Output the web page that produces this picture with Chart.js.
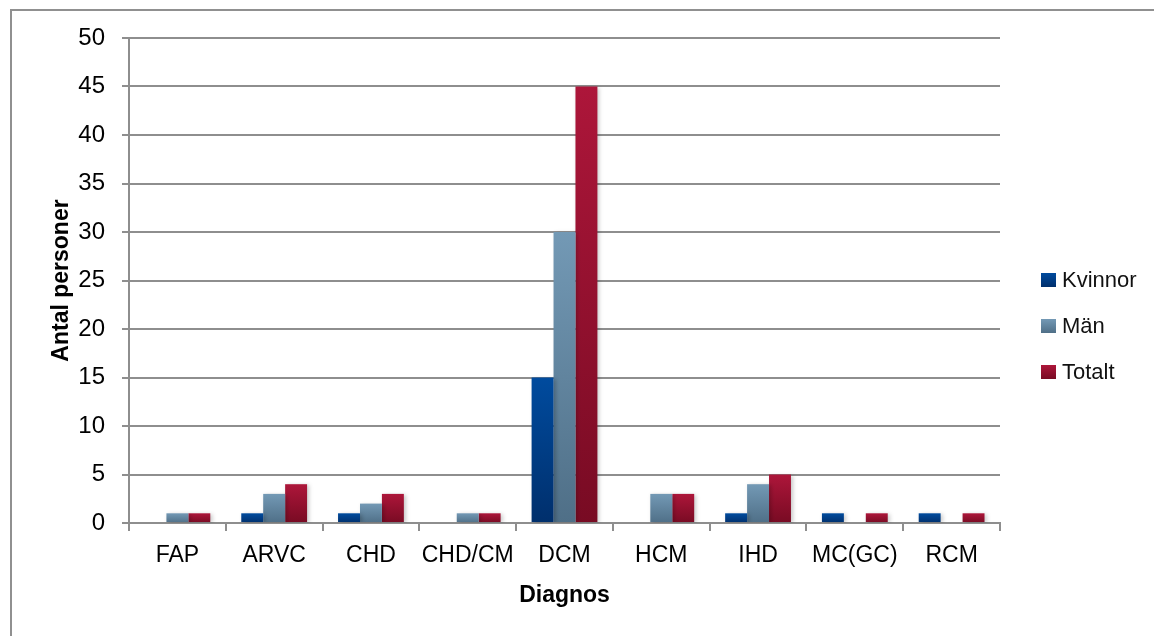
<!DOCTYPE html>
<html>
<head>
<meta charset="utf-8">
<script src="https://cdn.jsdelivr.net/npm/chart.js@4.4.1/dist/chart.umd.min.js"></script>
<style>
  html, body { margin: 0; padding: 0; background: #fff; }
  #wrap { position: relative; width: 1154px; height: 636px; overflow: hidden; }
  #frame { position: absolute; left: 10px; top: 9px; width: 1300px; height: 800px;
           border-top: 2px solid #909090; border-left: 2px solid #909090; }
  canvas { position: absolute; left: 0; top: 0; }
</style>
</head>
<body>
<div id="wrap">
  <div id="frame"></div>
  <canvas id="c" width="1154" height="636"></canvas>
</div>
<script>
// Diagnoses and number of persons per group
const categories = ['FAP', 'ARVC', 'CHD', 'CHD/CM', 'DCM', 'HCM', 'IHD', 'MC(GC)', 'RCM'];
const kvinnor = [0, 1, 1, 0, 15, 0, 1, 1, 1];
const man     = [1, 3, 2, 1, 30, 3, 4, 0, 0];
const totalt  = [1, 4, 3, 1, 45, 3, 5, 1, 1];
const seriesNames = ['Kvinnor', 'Män', 'Totalt'];
const yTicks = [0, 5, 10, 15, 20, 25, 30, 35, 40, 45, 50];

// top / bottom colours of each series' vertical gradient
const shades = [
  ['#004b9e', '#002f6c'],
  ['#7399b5', '#4f6f87'],
  ['#ad163a', '#780b23']
];

const FONT = "'Liberation Sans Narrow', 'Arial Narrow', 'Liberation Sans', Arial, sans-serif";
const GRID = '#8e8e8e';

function barFill(si) {
  return (ctx) => {
    const chart = ctx.chart;
    const ys = chart.scales.y;
    if (!ys || ctx.type !== 'data') return shades[si][0];
    const v = ctx.raw || 0;
    const top = ys.getPixelForValue(v);
    const base = ys.getPixelForValue(0);
    if (!isFinite(top) || !isFinite(base) || top === base) return shades[si][0];
    const g = chart.ctx.createLinearGradient(0, top, 0, base);
    g.addColorStop(0, shades[si][0]);
    g.addColorStop(1, shades[si][1]);
    return g;
  };
}

// soft drop shadow behind the bars
const barShadow = {
  id: 'barShadow',
  beforeDatasetsDraw(chart) {
    const c = chart.ctx;
    c.save();
    c.shadowColor = 'rgba(0,0,0,0.22)';
    c.shadowBlur = 4;
    c.shadowOffsetX = 2;
    c.shadowOffsetY = 1;
  },
  afterDatasetsDraw(chart) { chart.ctx.restore(); }
};

// legend on the right, square swatches
const sideLegend = {
  id: 'sideLegend',
  afterDraw(chart) {
    const c = chart.ctx;
    c.save();
    const x = 1041, y0 = 280, step = 46;
    chart.data.datasets.forEach((ds, i) => {
      const y = y0 + i * step;
      const g = c.createLinearGradient(0, y - 7, 0, y + 7);
      g.addColorStop(0, shades[i][0]);
      g.addColorStop(1, shades[i][1]);
      c.fillStyle = g;
      c.fillRect(x, y - 7, 15, 14);
      c.fillStyle = '#111';
      c.font = '22px ' + FONT;
      c.textBaseline = 'middle';
      c.textAlign = 'left';
      c.fillText(ds.label, x + 21, y + 1);
    });
    c.restore();
  }
};

new Chart(document.getElementById('c'), {
  type: 'bar',
  data: {
    labels: categories,
    datasets: [kvinnor, man, totalt].map((d, i) => ({
      label: seriesNames[i],
      data: d,
      backgroundColor: barFill(i),
      borderWidth: 0,
      categoryPercentage: 0.68,
      barPercentage: 1.0
    }))
  },
  options: {
    responsive: false,
    animation: false,
    events: [],
    layout: { padding: { left: 0, top: 38, right: 154, bottom: 0 } },
    plugins: { legend: { display: false }, tooltip: { enabled: false } },
    scales: {
      x: {
        offset: true,
        grid: { display: true, drawOnChartArea: false, offset: true, color: GRID, lineWidth: 2, tickLength: 8 },
        border: { display: true, color: GRID, width: 2 },
        ticks: { color: '#000', font: { family: FONT, size: 23 }, padding: 11, maxRotation: 0, autoSkip: false },
        title: { display: true, text: 'Diagnos', color: '#000',
                 font: { family: FONT, size: 23, weight: 'bold' }, padding: { top: 0, bottom: 27 } },
        afterFit(s) { s.height = 113; }
      },
      y: {
        min: 0, max: 50,
        afterBuildTicks(s) { s.ticks = yTicks.map(v => ({ value: v })); },
        grid: { color: GRID, lineWidth: 2, tickLength: 7 },
        border: { display: true, color: GRID, width: 2 },
        ticks: { color: '#000', font: { family: FONT, size: 24 }, padding: 17 },
        title: { display: true, text: 'Antal personer', color: '#000',
                 font: { family: FONT, size: 23, weight: 'bold' }, padding: { top: 48, bottom: 0 } },
        afterFit(s) { s.width = 129; }
      }
    }
  },
  plugins: [barShadow, sideLegend]
});
</script>
</body>
</html>
